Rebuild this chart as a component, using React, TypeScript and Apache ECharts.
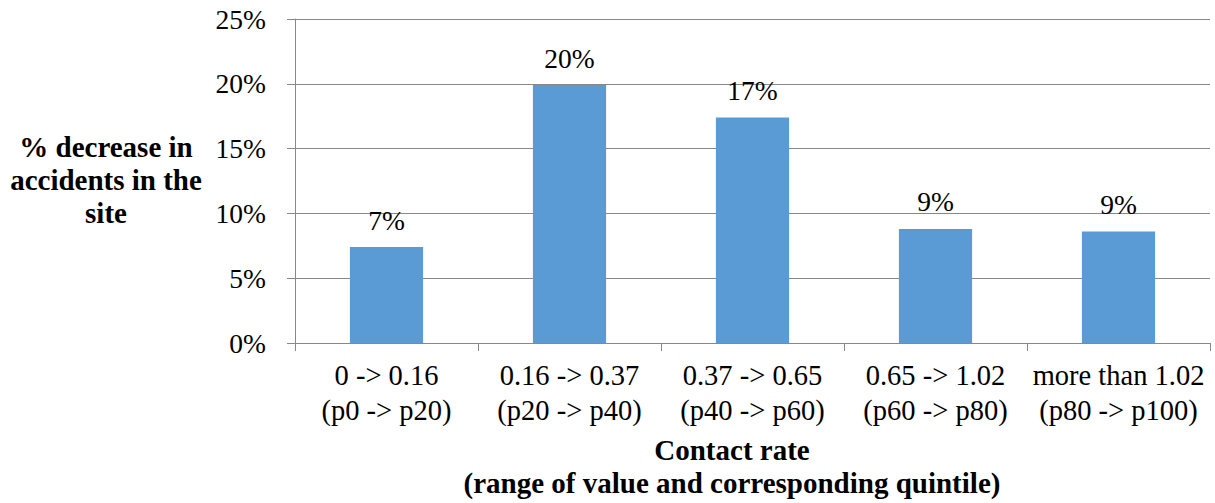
import React, { useEffect, useRef } from "react";
import * as echarts from "echarts";

// Contact-rate quintile bands (range of value / corresponding percentile)
const categories: string[] = [
  "0 -> 0.16\n(p0 -> p20)",
  "0.16 -> 0.37\n(p20 -> p40)",
  "0.37 -> 0.65\n(p40 -> p60)",
  "0.65 -> 1.02\n(p60 -> p80)",
  "more than 1.02\n(p80 -> p100)",
];

// Share of accidents avoided at the site, per band
const decreaseValues: number[] = [0.074, 0.199, 0.174, 0.088, 0.086];

const yTicks = { min: 0, max: 0.25, interval: 0.05 };

const yAxisTitle = "% decrease in\naccidents in the\nsite";
const xAxisTitle = "Contact rate\n(range of value and corresponding quintile)";

const FONT =
  "Liberation Serif, Times New Roman, Tinos, Noto Serif, Nimbus Roman, FreeSerif, DejaVu Serif, serif";
const AXIS_GREY = "#888888";
const BAR_BLUE = "#5B9BD5";

const pct = (v: number) => `${Math.round(v * 100)}%`;

export default function App() {
  const ref = useRef<HTMLDivElement>(null);

  useEffect(() => {
    if (!ref.current) return;
    const chart = echarts.init(ref.current, null, { renderer: "svg" });
    chart.setOption({
      animation: false,
      backgroundColor: "#ffffff",
      textStyle: { fontFamily: FONT, color: "#000" },
      grid: { left: 295, right: 5, top: 19, bottom: 160, containLabel: false },
      xAxis: {
        type: "category",
        data: categories,
        axisLine: { show: true, lineStyle: { color: AXIS_GREY, width: 1 } },
        axisTick: { show: true, length: 8, alignWithLabel: false, lineStyle: { color: AXIS_GREY } },
        axisLabel: {
          interval: 0,
          margin: 15,
          fontFamily: FONT,
          fontSize: 28.5,
          lineHeight: 35,
          color: "#000",
          align: "center",
        },
      },
      yAxis: {
        type: "value",
        min: yTicks.min,
        max: yTicks.max,
        interval: yTicks.interval,
        axisLine: { show: true, lineStyle: { color: AXIS_GREY, width: 1 } },
        axisTick: { show: true, length: 8, lineStyle: { color: AXIS_GREY } },
        splitLine: { show: true, lineStyle: { color: AXIS_GREY, width: 1 } },
        axisLabel: {
          margin: 29,
          fontFamily: FONT,
          fontSize: 27.5,
          color: "#000",
          formatter: (v: number) => pct(v),
        },
      },
      series: [
        {
          type: "bar",
          data: decreaseValues,
          barWidth: "40%",
          itemStyle: { color: BAR_BLUE },
          label: {
            show: true,
            position: "top",
            distance: 13,
            fontFamily: FONT,
            fontSize: 27.5,
            color: "#000",
            formatter: (p: any) => pct(p.value),
          },
        },
      ],
      graphic: [
        {
          type: "text",
          x: 106,
          y: 130,
          style: {
            text: yAxisTitle,
            fontFamily: FONT,
            fontWeight: "bold",
            fontSize: 29,
            lineHeight: 33,
            fill: "#000",
            align: "center",
            verticalAlign: "top",
          },
        },
        {
          type: "text",
          x: 732,
          y: 433,
          style: {
            text: xAxisTitle,
            fontFamily: FONT,
            fontWeight: "bold",
            fontSize: 29,
            lineHeight: 33,
            fill: "#000",
            align: "center",
            verticalAlign: "top",
          },
        },
      ],
    });
    return () => chart.dispose();
  }, []);

  return (
    <div
      ref={ref}
      style={{ position: "fixed", left: 0, top: 0, width: 1215, height: 503 }}
    />
  );
}
